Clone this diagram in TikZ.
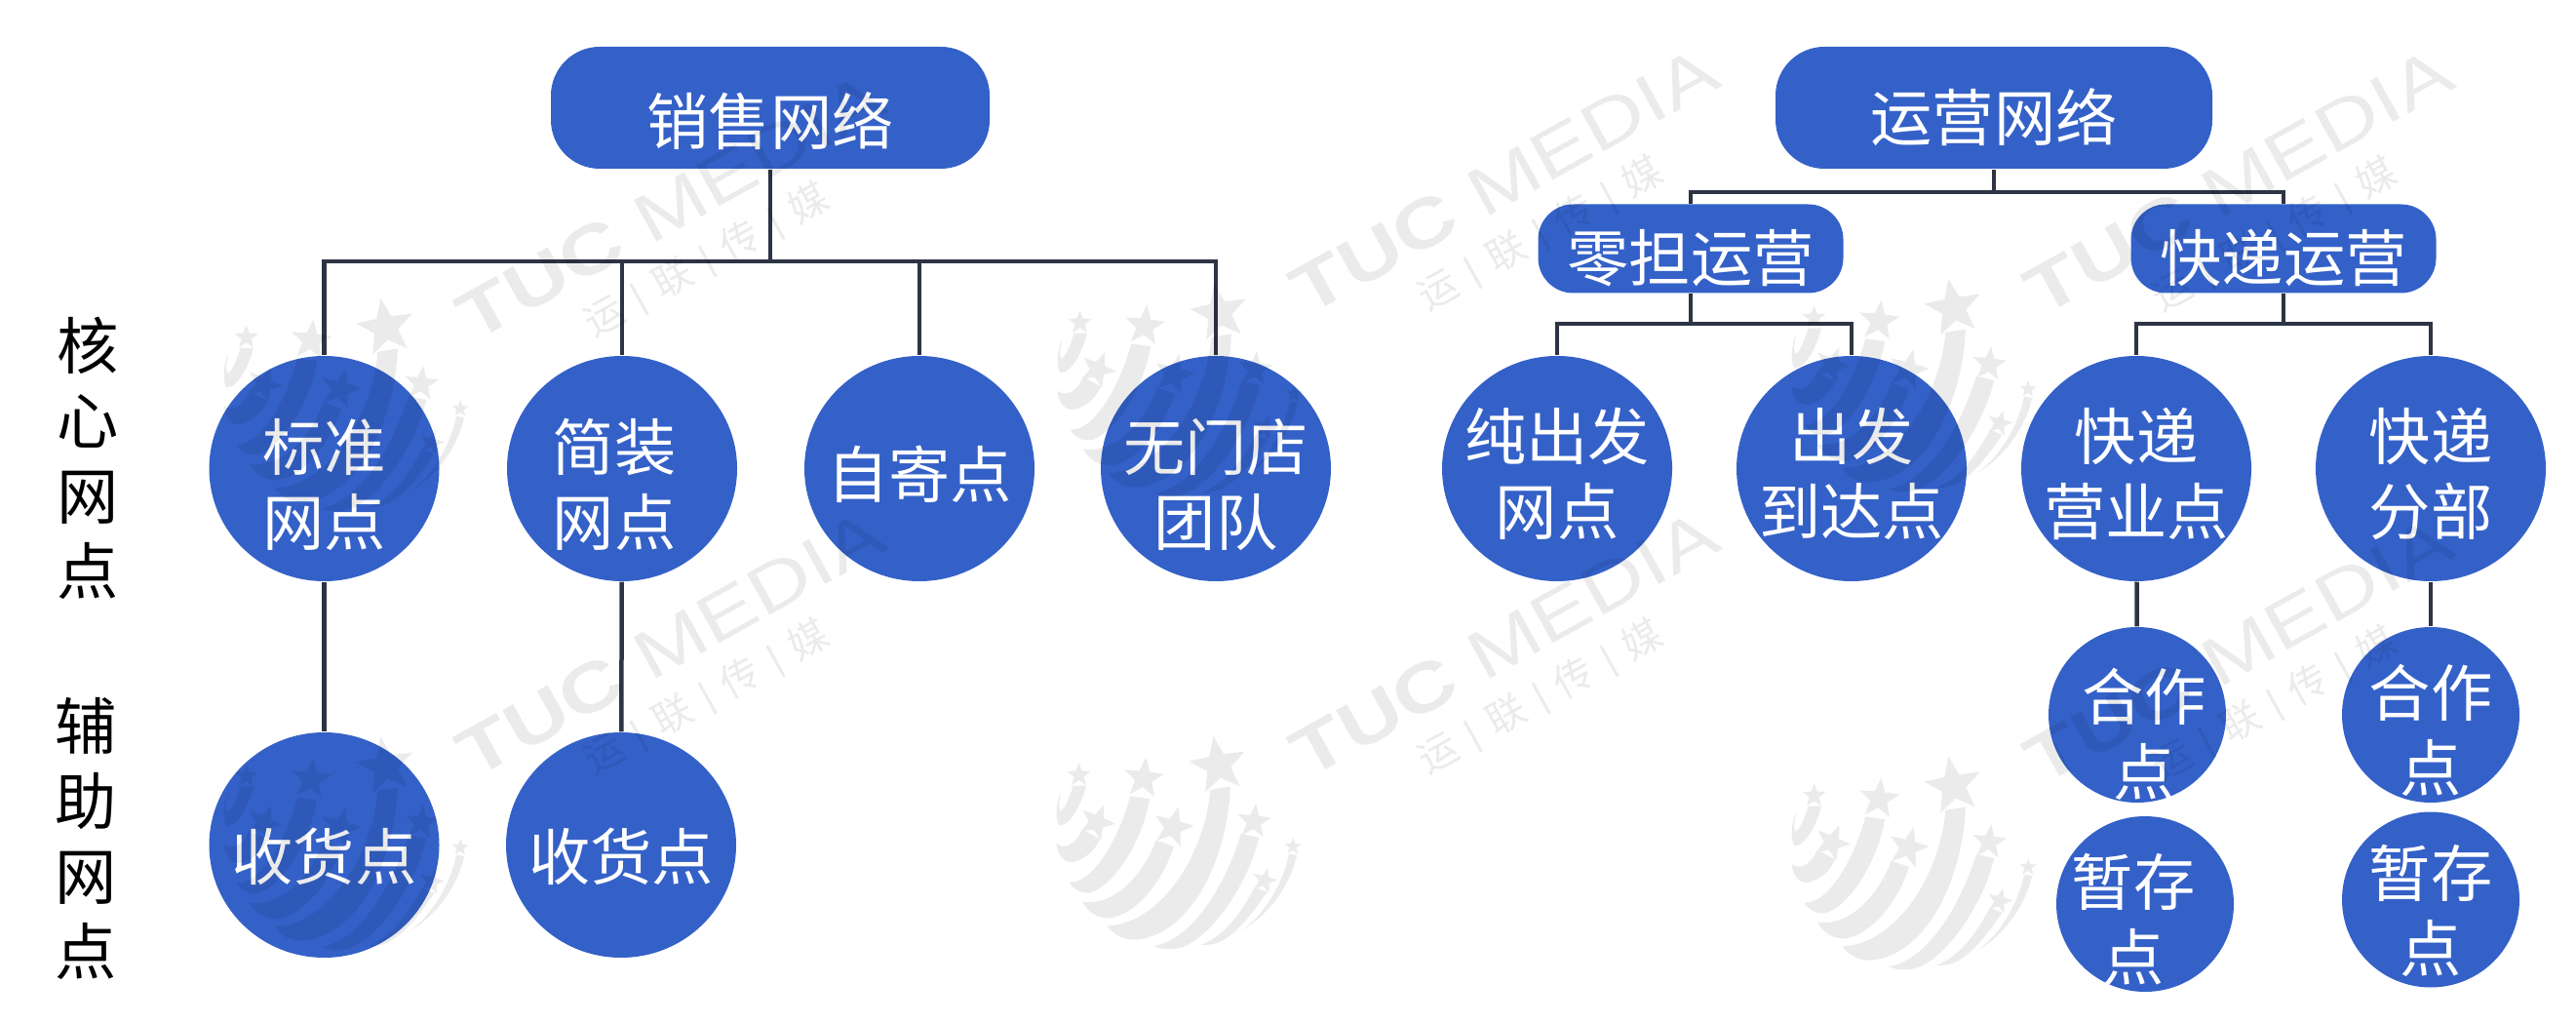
\documentclass[tikz,border=0pt]{standalone}
\usepackage{fontspec}
\setmainfont{Noto Sans CJK SC}
\newfontfamily\wmfont{Liberation Sans}
\usetikzlibrary{shapes.geometric}

\definecolor{netblue}{RGB}{52,97,200}
\definecolor{linkdark}{RGB}{45,52,68}

\tikzset{
  topbox/.style={draw=none, fill=netblue, rounded corners=0.5cm, minimum height=1.25cm},
  subbox/.style={draw=none, fill=netblue, rounded corners=0.36cm, minimum width=3.13cm, minimum height=0.91cm},
  spot/.style={ellipse, fill=netblue, minimum width=2.36cm, minimum height=2.31cm, inner sep=0pt},
  minispot/.style={ellipse, fill=netblue, minimum width=1.82cm, minimum height=1.8cm, inner sep=0pt},
  inwhite/.style={text=white, align=center, inner sep=0pt, font=\fontsize{18}{21.9}\selectfont},
  sidelabel/.style={text=black, align=center, inner sep=0pt, font=\fontsize{18}{21.9}\selectfont},
  link/.style={draw=linkdark, line width=0.045cm},
  wmtext/.style={text=black, text opacity=0.08, rotate=29, inner sep=0pt}
}

% one logo, coordinates read off a 3x crop
\newcommand{\wmstar}[4]{%
  \fill plot[samples at={0,...,9}, variable=\k]
    ({#1+(mod(\k,2)==0 ? #3 : 0.42*#3)*cos(#4+36*\k)},
     {#2-(mod(\k,2)==0 ? #3 : 0.42*#3)*sin(#4+36*\k)}) -- cycle;}
\newcommand{\wmlogo}[2]{%
  \begin{scope}[shift={(#1,#2)}, x=0.0033333cm, y=-0.0033333cm, transparency group, opacity=0.08]
    \fill (545,210) .. controls (530,400) and (400,620) .. (228,630) .. controls (250,660) and (280,675) .. (320,672) .. controls (500,650) and (600,400) .. (607,200) -- cycle;
    \fill (378,365) .. controls (340,470) and (250,570) .. (150,555) .. controls (170,590) and (200,608) .. (240,605) .. controls (320,590) and (400,490) .. (432,385) -- cycle;
    \fill (298,230) .. controls (270,340) and (190,500) .. (110,495) .. controls (125,520) and (150,530) .. (175,527) .. controls (260,500) and (340,350) .. (358,238) -- cycle;
    \fill (150,332) .. controls (130,380) and (95,395) .. (70,375) .. controls (75,415) and (95,435) .. (120,433) .. controls (160,425) and (190,395) .. (205,362) -- cycle;
    \fill (122,197) .. controls (110,240) and (90,280) .. (82,275) .. controls (75,265) and (80,240) .. (85,215) .. controls (70,250) and (65,300) .. (80,320) .. controls (115,320) and (150,250) .. (162,197) -- cycle;
    \fill (640,345) .. controls (600,480) and (500,670) .. (370,692) .. controls (400,705) and (430,703) .. (460,695) .. controls (570,650) and (670,470) .. (695,358) -- cycle;
    \fill (682,510) .. controls (640,590) and (590,660) .. (517,688) .. controls (540,690) and (570,685) .. (590,670) .. controls (640,640) and (690,570) .. (720,525) -- cycle;
    \fill (788,408) .. controls (770,490) and (720,590) .. (640,645) .. controls (720,600) and (790,510) .. (812,412) -- cycle;
    \wmstar{570}{135}{92}{100}
    \wmstar{340}{175}{65}{84}
    \wmstar{430}{325}{65}{75}
    \wmstar{195}{310}{58}{67}
    \wmstar{140}{165}{38}{90}
    \wmstar{680}{308}{55}{84}
    \wmstar{712}{490}{40}{75}
    \wmstar{800}{385}{27}{88}
  \end{scope}}
\newcommand{\wmbar}{{\wmfont\fontsize{11}{11}\selectfont\raisebox{0.5pt}{|}}}

\begin{document}
\begin{tikzpicture}
  \useasboundingbox (0,0) rectangle (26.42,-10.49);

  % Side labels
  \node[sidelabel] (core) at (0.90,-4.70) {核\\心\\网\\点};
  \node[sidelabel] (aux) at (0.88,-8.60) {辅\\助\\网\\点};

  % Sales network
  \node[topbox, minimum width=4.50cm, label={[inwhite, yshift=-0.14cm]center:销售网络}] (sales) at (7.90,-1.105) {};
  \node[spot, label={[inwhite, yshift=-0.165cm]center:标准\\网点}] (std) at (3.325,-4.805) {};
  \node[spot, label={[inwhite, xshift=-0.08cm, yshift=-0.165cm]center:简装\\网点}] (simple) at (6.38,-4.805) {};
  \node[spot, label={[inwhite, yshift=-0.055cm]center:自寄点}] (selfpt) at (9.43,-4.805) {};
  \node[spot, label={[inwhite, yshift=-0.165cm]center:无门店\\团队}] (nodoor) at (12.47,-4.805) {};
  \node[spot, label={[inwhite, yshift=-0.115cm]center:收货点}] (recv1) at (3.325,-8.665) {};
  \node[spot, label={[inwhite, yshift=-0.115cm]center:收货点}] (recv2) at (6.37,-8.665) {};

  \coordinate (salesbar) at (7.90,-2.68);
  \draw[link] (sales) -- (salesbar);
  \foreach \c in {std,simple,selfpt,nodoor}
    \draw[link] (salesbar) -| (\c.north);
  \draw[link] (std) -- (recv1);
  \draw[link] (simple) -- (recv2);

  % Operations network
  \node[topbox, minimum width=4.48cm, label={[inwhite, yshift=-0.10cm]center:运营网络}] (ops) at (20.45,-1.105) {};
  \node[subbox, label={[inwhite, yshift=-0.095cm]center:零担运营}] (lessload) at (17.34,-2.55) {};
  \node[subbox, label={[inwhite, yshift=-0.095cm]center:快递运营}] (express) at (23.42,-2.55) {};
  \node[spot, label={[inwhite, yshift=-0.055cm]center:纯出发\\网点}] (depart) at (15.97,-4.805) {};
  \node[spot, label={[inwhite, yshift=-0.055cm]center:出发\\到达点}] (arrive) at (18.99,-4.805) {};
  \node[spot, label={[inwhite, yshift=-0.055cm]center:快递\\营业点}] (office) at (21.91,-4.805) {};
  \node[spot, label={[inwhite, yshift=-0.055cm]center:快递\\分部}] (branch) at (24.93,-4.805) {};
  \node[minispot, label={[inwhite, xshift=0.07cm, yshift=-0.20cm]center:合作\\点}] (coop1) at (21.92,-7.33) {};
  \node[minispot, label={[inwhite, yshift=-0.16cm]center:合作\\点}] (coop2) at (24.93,-7.33) {};
  \node[minispot, label={[inwhite, xshift=-0.12cm, yshift=-0.16cm]center:暂存\\点}] (store1) at (22.00,-9.27) {};
  \node[minispot, label={[inwhite, yshift=-0.115cm]center:暂存\\点}] (store2) at (24.93,-9.225) {};

  \coordinate (opsbar) at (20.45,-1.97);
  \draw[link] (ops) -- (opsbar);
  \draw[link] (opsbar) -| (lessload.north);
  \draw[link] (opsbar) -| (express.north);
  \coordinate (lessbar) at (17.34,-3.32);
  \draw[link] (lessload) -- (lessbar);
  \foreach \c in {depart,arrive}
    \draw[link] (lessbar) -| (\c.north);
  \coordinate (expbar) at (23.42,-3.32);
  \draw[link] (express) -- (expbar);
  \foreach \c in {office,branch}
    \draw[link] (expbar) -| (\c.north);
  \draw[link] (office) -- (coop1);
  \draw[link] (branch) -- (coop2);

  % Watermark
  \foreach \x/\y [count=\i] in {6.88/-2.12, 6.88/-6.60, 15.43/-1.85, 15.43/-6.60, 22.96/-1.86, 22.96/-6.67} {
    \node[wmtext, font=\wmfont\fontsize{20}{20}\selectfont] (wma\i) at (\x,\y) {\scalebox{1.26}[1]{\textbf{TUC} MEDIA}};
    \node[wmtext, font=\fontsize{11.4}{12}\selectfont] (wmb\i) at (\x+0.37,\y-0.55) {运\hspace{4.2pt}\wmbar\hspace{4.2pt}联\hspace{4.2pt}\wmbar\hspace{4.2pt}传\hspace{4.2pt}\wmbar\hspace{4.2pt}媒};
  }
  \wmlogo{2.06}{-2.91}
  \wmlogo{2.06}{-7.41}
  \wmlogo{10.61}{-2.76}
  \wmlogo{10.60}{-7.40}
  \wmlogo{18.14}{-2.71}
  \wmlogo{18.14}{-7.61}
\end{tikzpicture}
\end{document}
